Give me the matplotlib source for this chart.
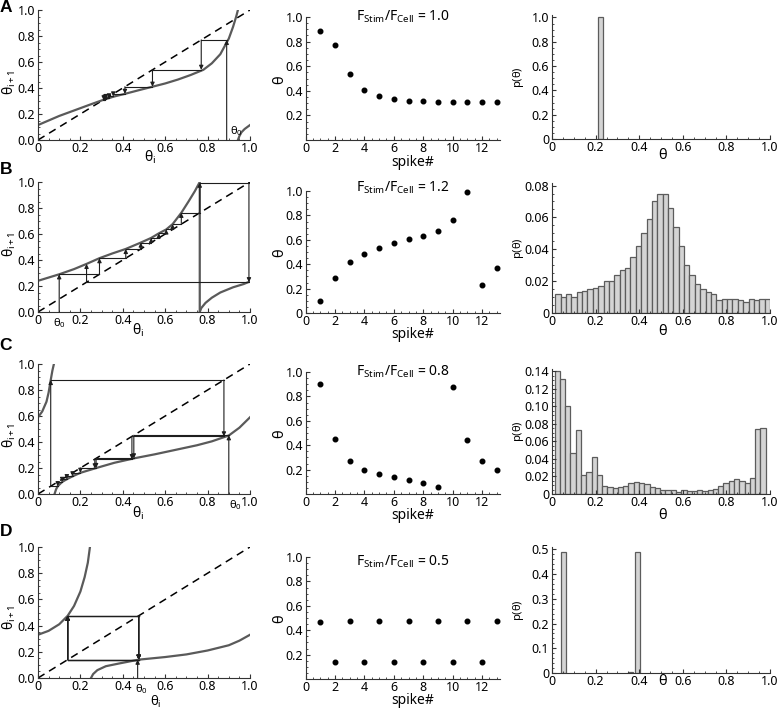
import numpy as np
import matplotlib
matplotlib.use("Agg")
import matplotlib.pyplot as plt
from matplotlib.ticker import MultipleLocator

plt.rcParams.update({
    "font.family": "Noto Sans",
    "font.size": 9,
    "mathtext.fontset": "custom",
    "mathtext.rm": "Noto Sans",
    "mathtext.it": "Noto Sans:italic",
    "mathtext.default": "rm",
    "axes.linewidth": 0.8,
    "axes.edgecolor": "#333333",
    "xtick.direction": "in",
    "ytick.direction": "in",
    "xtick.major.size": 3,
    "ytick.major.size": 3,
    "xtick.minor.size": 1.5,
    "ytick.minor.size": 1.5,
    "xtick.major.pad": 1.5,
    "ytick.major.pad": 2,
    "xtick.color": "#333333",
    "ytick.color": "#333333",
    "xtick.labelcolor": "black",
    "ytick.labelcolor": "black",
})

# ---------------- data ----------------
spikes = np.arange(1, 14)
ratios = ["1.0", "1.2", "0.8", "0.5"]

thetaA = [0.89, 0.77, 0.54, 0.41, 0.355, 0.335, 0.32, 0.315, 0.31, 0.305, 0.305, 0.305, 0.305]
thetaB = [0.10, 0.29, 0.414, 0.485, 0.534, 0.57, 0.605, 0.635, 0.676, 0.763, 0.995, 0.229, 0.37]
thetaC = [0.90, 0.452, 0.274, 0.20, 0.163, 0.136, 0.114, 0.093, 0.06, 0.877, 0.443, 0.268, 0.197]
thetaD = [0.47, 0.14, 0.475, 0.14, 0.475, 0.14, 0.475, 0.14, 0.475, 0.14, 0.475, 0.14, 0.475]

# phase transition curves (upper and lower branch)
mapA_x = [0.0, 0.05, 0.10, 0.15, 0.20, 0.25, 0.31, 0.36, 0.41, 0.48, 0.54, 0.60, 0.66, 0.72, 0.78, 0.82, 0.86, 0.90, 0.92, 0.935, 0.943]
mapA_y = [0.115, 0.15, 0.185, 0.215, 0.245, 0.275, 0.31, 0.335, 0.355, 0.385, 0.41, 0.435, 0.465, 0.50, 0.54, 0.59, 0.66, 0.78, 0.87, 0.95, 1.0]
mapA_low_x = [0.943, 0.95, 0.96, 0.975, 1.0]
mapA_low_y = [0.0, 0.03, 0.06, 0.085, 0.115]

mapB_x = [0.0, 0.05, 0.10, 0.17, 0.229, 0.29, 0.35, 0.414, 0.485, 0.534, 0.57, 0.605, 0.635, 0.676, 0.71, 0.74, 0.763, 0.763]
mapB_y = [0.24, 0.265, 0.29, 0.33, 0.37, 0.414, 0.45, 0.485, 0.534, 0.57, 0.605, 0.635, 0.676, 0.763, 0.85, 0.93, 1.0, 0.0]
mapB_low_x = [0.763, 0.77, 0.79, 0.82, 0.86, 0.92, 0.97, 1.0]
mapB_low_y = [0.0, 0.03, 0.07, 0.11, 0.15, 0.19, 0.215, 0.235]

mapC_x = [0.0, 0.02, 0.04, 0.05, 0.06, 0.068, 0.075]
mapC_y = [0.59, 0.635, 0.71, 0.78, 0.877, 0.95, 1.0]
mapC_low_x = [0.078, 0.085, 0.093, 0.114, 0.136, 0.163, 0.20, 0.275, 0.36, 0.455, 0.55, 0.65, 0.75, 0.82, 0.90, 0.95, 1.0]
mapC_low_y = [0.0, 0.035, 0.06, 0.093, 0.114, 0.136, 0.163, 0.20, 0.24, 0.275, 0.305, 0.34, 0.375, 0.405, 0.45, 0.51, 0.59]

mapD_x = [0.0, 0.05, 0.10, 0.14, 0.17, 0.20, 0.22, 0.235, 0.245]
mapD_y = [0.33, 0.36, 0.41, 0.475, 0.55, 0.66, 0.77, 0.88, 1.0]
mapD_low_x = [0.25, 0.26, 0.28, 0.32, 0.38, 0.475, 0.60, 0.70, 0.80, 0.90, 0.95, 1.0]
mapD_low_y = [0.0, 0.03, 0.06, 0.09, 0.11, 0.14, 0.16, 0.18, 0.21, 0.25, 0.285, 0.33]

# histograms p(theta)
histA_centers = [0.221]
histA_heights = [1.0]
histB_heights = [0.012, 0.010, 0.012, 0.010, 0.013, 0.014, 0.015, 0.016, 0.017, 0.020,
                 0.020, 0.024, 0.027, 0.028, 0.035, 0.042, 0.050, 0.059, 0.070, 0.075,
                 0.075, 0.066, 0.054, 0.042, 0.030, 0.024, 0.018, 0.015, 0.013, 0.012,
                 0.008, 0.009, 0.009, 0.009, 0.008, 0.007, 0.009, 0.008, 0.009, 0.009]
histC_heights = [0.140, 0.131, 0.101, 0.047, 0.073, 0.022, 0.025, 0.042, 0.022, 0.0097,
                 0.0075, 0.0063, 0.0075, 0.0093, 0.012, 0.014, 0.012, 0.011, 0.008, 0.0067,
                 0.004, 0.004, 0.004, 0.002, 0.004, 0.003, 0.003, 0.004, 0.003, 0.005,
                 0.006, 0.009, 0.012, 0.015, 0.017, 0.015, 0.012, 0.018, 0.074, 0.075]
histD_centers = [0.053, 0.36, 0.392]
histD_heights = [0.49, 0.003, 0.49]

# ---------------- figure ----------------
W, H = 781, 709
fig = plt.figure(figsize=(W / 100, H / 100), dpi=100)

curve_col = "#5a5a5a"
web_col = "#1e1e1e"
bar_face = "#d4d4d4"
bar_edge = "#5c5c5c"


def px_axes(x0, y0, x1, y1):
    return fig.add_axes([x0 / W, 1 - y1 / H, (x1 - x0) / W, (y1 - y0) / H])


def style(ax):
    for s in ["top", "right"]:
        ax.spines[s].set_visible(False)


def cobweb(ax, seq):
    for i in range(len(seq) - 1):
        x = seq[i]
        if i > 0:
            ax.plot([seq[i - 1], x], [x, x], color=web_col, lw=0.8)
        y0 = 0.0 if i == 0 else x
        ax.annotate("", xy=(x, seq[i + 1]), xytext=(x, y0),
                    arrowprops=dict(arrowstyle="-|>", color=web_col, lw=0.8,
                                    mutation_scale=6, shrinkA=0, shrinkB=0))


# left column: return maps
left_rows = [(10, 140), (182, 312), (364, 494), (547, 678)]
maps = [(mapA_x, mapA_y, mapA_low_x, mapA_low_y, thetaA),
        (mapB_x, mapB_y, mapB_low_x, mapB_low_y, thetaB),
        (mapC_x, mapC_y, mapC_low_x, mapC_low_y, thetaC),
        (mapD_x, mapD_y, mapD_low_x, mapD_low_y, thetaD)]
theta0_pos = [(0.935, 0.012, "bottom"), (0.10, -0.035, "top"), (0.93, -0.035, "top"), (0.49, -0.035, "top")]
xlab_pos = [(0.53, -0.13, 10), (0.47, -0.14, 10), (0.47, -0.15, 10), (0.555, -0.18, 9.5)]
ylab_y = [0.44, 0.52, 0.45, 0.46]

for k, (ux, uy, lx, ly, seq) in enumerate(maps):
    top, bot = left_rows[k]
    ax = px_axes(38, top, 250, bot)
    style(ax)
    ax.plot([0, 1], [0, 1], color="black", lw=1.1, dashes=(5, 3.5))
    ax.plot(ux, uy, color=curve_col, lw=1.6)
    ax.plot(lx, ly, color=curve_col, lw=1.6)
    cobweb(ax, seq)
    ax.set_xlim(0, 1.0)
    ax.set_ylim(0, 1.0)
    ax.set_xticks([0, 0.2, 0.4, 0.6, 0.8, 1.0], ["0", "0.2", "0.4", "0.6", "0.8", "1.0"])
    ax.set_yticks([0, 0.2, 0.4, 0.6, 0.8, 1.0], ["0.0", "0.2", "0.4", "0.6", "0.8", "1.0"])
    ax.xaxis.set_minor_locator(MultipleLocator(0.05))
    ax.yaxis.set_minor_locator(MultipleLocator(0.05))
    tx, ty, va = theta0_pos[k]
    ax.text(tx, ty, r"$\theta_0$", ha="center", va=va, fontsize=8, clip_on=False)
    lxp, lyp, lfs = xlab_pos[k]
    ax.text(lxp, lyp, r"$\theta_i$", transform=ax.transAxes,
            ha="center", va="center", fontsize=lfs)
    ax.text(-0.135, ylab_y[k], r"$\theta_{i+1}$", transform=ax.transAxes,
            ha="center", va="center", rotation=90, fontsize=10)

# middle column: theta vs spike number
mid_rows = [(17, 140), (191, 313), (372, 494), (557, 679)]
seqs = [thetaA, thetaB, thetaC, thetaD]
title_y = [1.0, 1.03, 1.0, 0.96]
for k, seq in enumerate(seqs):
    top, bot = mid_rows[k]
    ax = px_axes(305.7, top, 305.7 + 13.2 * 14.69, bot)
    style(ax)
    ax.plot(spikes, seq, "o", color="black", ms=3.3, clip_on=False)
    ax.set_xlim(0, 13.2)
    ax.set_ylim(0, 1.0)
    ax.set_xticks([0, 2, 4, 6, 8, 10, 12])
    ax.xaxis.set_minor_locator(MultipleLocator(0.5))
    if k == 1:
        ax.set_yticks([0, 0.2, 0.4, 0.6, 0.8, 1.0], ["0", "0.2", "0.4", "0.6", "0.8", "1.0"])
    else:
        ax.set_yticks([0.2, 0.4, 0.6, 0.8, 1.0], ["0.2", "0.4", "0.6", "0.8", "1.0"])
    ax.yaxis.set_minor_locator(MultipleLocator(0.05))
    ax.text(0.55, -0.18, "spike#", transform=ax.transAxes, ha="center", va="center", fontsize=10)
    ax.text(-0.13, 0.49, r"$\theta$", transform=ax.transAxes, ha="center", va="center",
            rotation=90, fontsize=10.5)
    ax.text(0.5, title_y[k], r"F$_{\mathregular{Stim}}$/F$_{\mathregular{Cell}}$ = " + ratios[k],
            transform=ax.transAxes, ha="center", va="center", fontsize=10)

# right column: histograms
right_rows = [(15, 139), (183, 313), (369, 494), (547, 673)]
edgesB = np.linspace(0.015, 1.0, len(histB_heights) + 1)
edgesC = np.linspace(0.012, 0.98, len(histC_heights) + 1)
hists = [(histA_centers, histA_heights, 0.024),
         ((edgesB[:-1] + edgesB[1:]) / 2, histB_heights, edgesB[1] - edgesB[0]),
         ((edgesC[:-1] + edgesC[1:]) / 2, histC_heights, edgesC[1] - edgesC[0]),
         (histD_centers, histD_heights, 0.025)]
yticks_r = [([0, 0.2, 0.4, 0.6, 0.8, 1.0], ["0", "0.2", "0.4", "0.6", "0.8", "1.0"], 0.05, 1.0),
            ([0, 0.02, 0.04, 0.06, 0.08], ["0", "0.02", "0.04", "0.06", "0.08"], 0.005, 0.08),
            ([0, 0.02, 0.04, 0.06, 0.08, 0.10, 0.12, 0.14],
             ["0", "0.02", "0.04", "0.06", "0.08", "0.10", "0.12", "0.14"], 0.005, 0.14),
            ([0, 0.1, 0.2, 0.3, 0.4, 0.5], ["0", "0.1", "0.2", "0.3", "0.4", "0.5"], 0.02, 0.5)]
thx_y = [-0.13, -0.146, -0.17, -0.07]
for k, (cen, hgt, wd) in enumerate(hists):
    top, bot = right_rows[k]
    ax = px_axes(552, top, 770, bot)
    style(ax)
    ax.bar(cen, hgt, width=wd, color=bar_face, edgecolor=bar_edge, linewidth=0.9)
    ax.set_xlim(0, 1.0)
    ticks, labels, minor, ytop = yticks_r[k]
    ax.set_yticks(ticks, labels)
    ax.yaxis.set_minor_locator(MultipleLocator(minor))
    ax.set_ylim(0, ytop * 1.02)
    ax.set_xticks([0, 0.2, 0.4, 0.6, 0.8, 1.0], ["0", "0.2", "0.4", "0.6", "0.8", "1.0"])
    ax.xaxis.set_minor_locator(MultipleLocator(0.05))
    ax.text(0.51, thx_y[k], r"$\theta$", transform=ax.transAxes, ha="center", va="center",
            fontsize=10.5)
    fig.text(518 / W, 1 - (top + bot) / 2 / H, r"p($\theta$)", rotation=90,
             ha="center", va="center", fontsize=8)

for letter, yy in zip("ABCD", [8, 170, 345, 532]):
    fig.text(6 / W, 1 - yy / H, letter, ha="center", va="center", fontsize=12.5,
             fontweight="bold", family="Liberation Sans")

fig.savefig("out.png", dpi=100)
